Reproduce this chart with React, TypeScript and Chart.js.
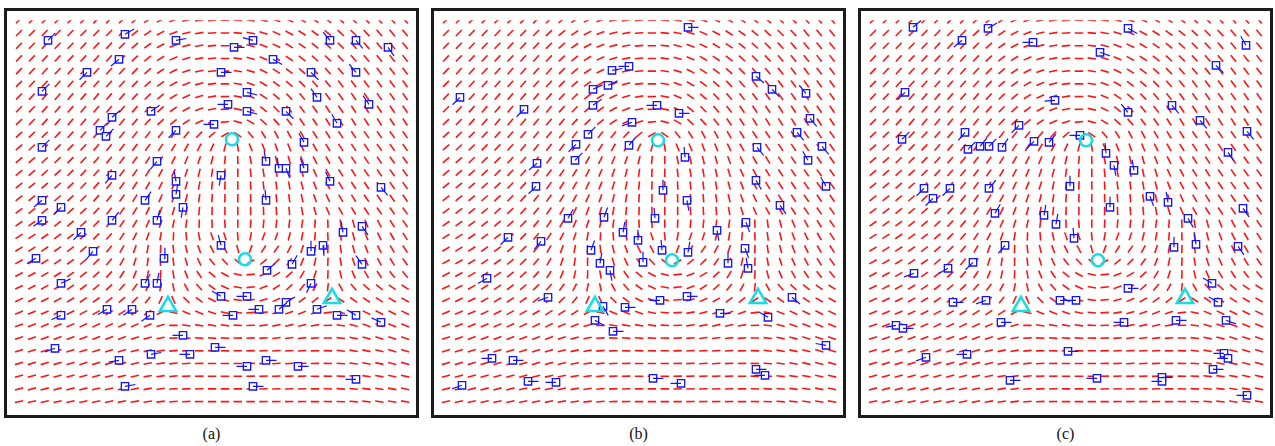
import React, { useEffect, useRef } from "react";
import { Chart, registerables } from "chart.js";

Chart.register(...registerables);

// ---------------- data ----------------
// Orientation field: one angle (degrees, counter-clockwise from horizontal) per block,
// 31 rows x 31 columns (same field in all three panels).
const fieldAngles: number[][] = [
  [45,45,45,45,45,45,46,46,45,40,34,26,19,13,8,4,0,-4,-9,-15,-20,-25,-30,-34,-38,-41,-44,-46,-48,-49,-50],
  [45,45,46,46,46,46,46,46,44,40,34,27,20,14,9,4,0,-5,-11,-17,-23,-28,-32,-36,-40,-43,-45,-47,-49,-50,-50],
  [46,46,46,46,46,47,47,47,45,41,36,29,22,15,10,5,0,-6,-13,-20,-26,-31,-35,-39,-42,-45,-47,-49,-50,-51,-51],
  [46,46,47,47,47,47,48,48,46,43,38,31,24,17,11,5,0,-7,-15,-23,-29,-34,-38,-42,-45,-47,-49,-50,-51,-52,-52],
  [46,47,47,47,48,48,48,48,47,45,40,34,27,19,12,6,0,-8,-17,-26,-33,-38,-42,-45,-48,-50,-51,-52,-53,-53,-53],
  [46,47,47,48,48,48,49,49,48,46,42,36,29,22,14,7,0,-9,-20,-30,-37,-42,-46,-49,-51,-52,-53,-54,-54,-54,-54],
  [46,47,48,48,49,49,49,49,49,47,44,39,32,25,17,9,1,-11,-23,-34,-41,-46,-50,-52,-54,-55,-55,-55,-55,-55,-55],
  [45,47,48,49,49,50,50,50,50,48,46,42,36,28,20,11,1,-12,-26,-38,-45,-50,-53,-55,-56,-56,-57,-57,-57,-56,-56],
  [44,46,48,49,50,50,50,50,50,49,47,44,40,33,25,18,6,-15,-30,-42,-48,-52,-55,-57,-58,-58,-58,-58,-58,-57,-57],
  [43,44,45,46,47,48,49,50,51,52,52,52,52,50,46,40,30,-35,-50,-58,-62,-62,-60,-58,-57,-56,-56,-55,-55,-55,-55],
  [42,43,44,45,46,48,50,51,52,53,54,56,58,60,62,65,75,-80,-68,-68,-70,-68,-64,-60,-58,-57,-56,-56,-55,-55,-55],
  [41,42,43,44,45,47,49,51,53,55,57,60,63,67,71,76,84,-88,-78,-76,-76,-74,-69,-63,-60,-58,-57,-56,-56,-55,-55],
  [40,41,42,43,45,47,49,51,53,56,59,62,66,71,76,81,87,90,-84,-81,-80,-78,-73,-66,-61,-58,-57,-56,-56,-55,-55],
  [39,40,41,42,44,46,48,51,54,57,60,64,68,73,79,84,88,90,-87,-84,-83,-80,-75,-68,-62,-59,-57,-56,-55,-55,-55],
  [38,39,40,41,43,45,48,51,54,58,62,66,71,76,81,86,89,90,-89,-86,-85,-82,-77,-70,-64,-60,-58,-56,-55,-55,-55],
  [37,38,39,40,42,44,47,51,55,59,64,69,74,79,84,88,90,90,90,-88,-87,-85,-80,-73,-66,-61,-58,-56,-55,-55,-55],
  [35,36,37,39,41,43,46,50,55,60,66,72,78,83,88,-88,-86,90,87,85,84,83,82,86,-88,-82,-75,-68,-62,-58,-55],
  [33,33,34,36,38,42,45,50,56,63,71,80,88,-85,-78,-72,-72,-85,80,70,72,76,80,85,-88,-82,-76,-70,-64,-60,-57],
  [31,32,33,35,37,41,45,51,60,70,80,88,-84,-77,-70,-63,-62,-75,70,57,55,62,72,80,88,-82,-75,-69,-64,-60,-57],
  [29,30,32,34,36,40,44,50,60,72,82,89,-83,-74,-64,-52,-46,-40,30,40,45,55,68,78,88,-80,-72,-66,-62,-58,-55],
  [28,29,31,33,35,38,42,48,57,68,78,88,-80,-68,-55,-40,-28,-15,5,22,30,42,58,72,88,-76,-66,-60,-56,-53,-51],
  [25,27,29,31,34,37,40,43,48,54,62,78,-78,-62,-48,-36,-24,-10,6,21,33,42,51,62,84,-62,-48,-42,-38,-35,-32],
  [25,26,27,29,31,33,35,38,41,45,51,65,-65,-45,-36,-27,-18,-7,5,15,24,30,36,39,34,-34,-35,-33,-32,-30,-29],
  [22,23,24,25,26,28,29,31,32,33,33,27,-13,-22,-22,-18,-11,-5,3,10,16,20,21,19,7,-13,-21,-25,-26,-26,-25],
  [20,21,22,23,24,25,25,25,25,24,22,15,0,-8,-10,-10,-7,-3,2,7,11,13,12,10,2,-8,-15,-19,-21,-22,-22],
  [18,19,20,20,21,21,21,21,20,18,15,10,3,-2,-4,-5,-3,-1,2,5,7,7,6,4,0,-6,-11,-15,-17,-18,-19],
  [17,17,18,18,18,18,18,18,17,15,12,9,5,1,-1,-2,-1,0,2,3,4,4,3,1,-2,-6,-9,-12,-14,-16,-17],
  [16,16,16,16,17,17,16,16,15,13,11,8,6,3,1,0,0,0,1,2,3,3,2,1,-1,-4,-7,-10,-12,-13,-15],
  [15,15,15,15,15,15,15,14,13,12,10,8,6,3,1,0,0,0,1,2,2,2,2,0,-1,-3,-6,-8,-10,-12,-13],
  [14,14,14,14,14,14,13,13,12,11,10,8,5,3,1,0,0,0,1,1,2,2,1,0,-1,-3,-5,-7,-9,-10,-12],
  [13,13,13,13,13,13,12,12,11,10,9,7,5,3,1,0,0,0,0,1,1,1,1,0,-1,-2,-4,-6,-8,-9,-10],
];

// block spacing of the field in image pixels (x, y)
const BLOCK_X = 12.87;
const BLOCK_Y = 12.71;

const panelLabels = ["(a)", "(b)", "(c)"];

// singular points [x, y] in image pixels
const coresA = [[213, 119], [226, 239]];
const deltasA = [[149, 286], [313, 278]];
const coresB = [[212, 120], [226, 240]];
const deltasB = [[149, 286], [312, 278]];
const coresC = [[213, 120], [225, 240]];
const deltasC = [[148, 286], [312, 278]];

// minutiae [x, y, direction in degrees]
const minutiaeA = [
  [29,20,45],[106,14,30],[157,20,10],[100,39,220],[68,52,225],[23,71,45],[132,91,35],[93,97,40],
  [81,110,45],[87,116,45],[157,110,225],[195,104,180],[23,127,45],[234,20,165],[215,27,0],[254,39,-30],
  [202,52,0],[292,52,-45],[311,20,130],[337,20,-50],[369,27,-55],[337,52,130],[228,72,-15],[209,84,180],
  [298,77,125],[350,84,125],[228,91,-15],[267,91,-45],[318,103,120],[285,122,120],[247,141,100],[260,148,100],
  [267,148,-70],[285,148,110],[311,161,115],[362,167,-50],[202,155,-100],[247,180,95],[343,206,-55],[324,212,100],
  [202,225,105],[304,225,-85],[292,231,90],[343,244,125],[273,244,60],[248,250,40],[292,263,245],[202,276,150],
  [228,276,180],[240,289,180],[260,289,40],[267,282,30],[298,289,20],[318,295,0],[337,295,150],[214,295,180],
  [362,302,155],[196,327,0],[247,340,0],[228,346,180],[279,346,0],[337,359,180],[234,366,0],[42,263,25],
  [126,263,60],[138,263,80],[42,295,205],[88,289,210],[113,289,215],[131,295,215],[164,315,180],[36,328,200],
  [132,334,10],[171,334,180],[100,340,190],[106,366,10],[138,141,230],[93,155,230],[157,161,100],[157,174,80],
  [23,180,220],[42,187,225],[126,180,55],[164,187,-100],[23,200,215],[93,200,50],[138,200,75],[62,212,225],
  [74,231,230],[17,238,210],[145,238,85],
];

const minutiaeB = [
  [242,7,0],[14,77,225],[78,89,225],[166,50,10],[183,46,180],[147,69,25],[162,65,25],[147,85,35],
  [186,102,200],[142,114,45],[130,124,225],[183,125,50],[211,85,180],[233,93,0],[310,56,-40],[326,69,-45],
  [360,73,130],[364,98,-50],[129,140,45],[91,143,220],[239,137,95],[311,127,-50],[351,112,-50],[362,140,120],
  [376,126,-50],[380,166,120],[90,166,225],[122,198,60],[158,197,70],[177,212,80],[192,220,90],[209,198,95],
  [217,170,90],[241,180,-80],[271,210,-80],[300,202,-70],[310,160,-60],[334,185,-55],[62,217,225],[95,221,230],
  [145,230,70],[164,250,-80],[154,243,80],[197,242,90],[216,230,95],[242,232,80],[282,243,90],[299,228,-70],
  [302,248,100],[41,258,210],[102,277,200],[157,286,-60],[179,287,0],[214,280,180],[241,276,0],[274,293,0],
  [322,297,150],[346,277,-40],[149,300,-30],[167,311,0],[46,338,180],[67,340,0],[82,361,0],[110,362,180],
  [207,358,0],[235,363,180],[310,349,0],[319,355,180],[380,325,170],[16,365,200],
];

const minutiaeC = [
  [40,7,40],[115,8,30],[89,20,220],[160,22,180],[32,72,225],[182,80,185],[146,105,225],[92,112,230],
  [29,119,45],[161,121,225],[176,122,50],[95,129,45],[107,126,50],[116,126,45],[129,127,55],[227,32,-20],
  [255,8,-30],[343,45,-45],[373,25,120],[207,115,180],[255,92,130],[299,85,-50],[327,100,-50],[355,132,-55],
  [374,111,-50],[233,133,95],[241,145,-80],[261,150,100],[277,176,-70],[295,182,100],[315,198,-60],[323,224,100],
  [365,226,-55],[370,188,-55],[197,166,90],[237,187,90],[171,195,80],[201,218,95],[51,168,225],[77,168,225],
  [60,178,225],[122,193,60],[116,168,50],[183,204,80],[132,225,230],[100,242,225],[75,248,210],[41,253,200],
  [255,268,0],[301,227,90],[339,263,150],[345,282,150],[353,300,-20],[303,300,0],[251,302,180],[203,280,180],
  [187,280,0],[113,280,200],[80,282,0],[23,305,190],[30,308,0],[128,302,0],[53,337,200],[94,334,180],
  [195,331,0],[137,360,0],[224,358,180],[289,357,0],[289,361,180],[351,333,180],[355,338,180],[340,349,0],
  [374,375,180],
];

const panelData = [
  { cores: coresA, deltas: deltasA, minutiae: minutiaeA },
  { cores: coresB, deltas: deltasB, minutiae: minutiaeB },
  { cores: coresC, deltas: deltasC, minutiae: minutiaeC },
];

// ---------------- styles ----------------
const RED = "#ff1414";
const BLUE = "#1414ff";
const CYAN = "#14dde3";
const FRAME_LEFT = [4, 431, 858];
const FRAME_TOP = 8;
const FRAME_W = 415;
const FRAME_H = 410;
const BORDER = 3;
const CANVAS_W = FRAME_W - 2 * BORDER;
const CANVAS_H = FRAME_H - 2 * BORDER;
const X_MIN = -12;
const TOP_PAD = 9.3;
const TAIL = 10.5;

function FingerPanel({ idx }: { idx: number }) {
  const ref = useRef<HTMLCanvasElement | null>(null);
  useEffect(() => {
    if (!ref.current) return;
    const { cores, deltas, minutiae } = panelData[idx];
    const fieldPts: { x: number; y: number }[] = [];
    const fieldRot: number[] = [];
    fieldAngles.forEach((row, j) =>
      row.forEach((a, i) => {
        fieldPts.push({ x: i * BLOCK_X, y: j * BLOCK_Y });
        fieldRot.push(-a);
      })
    );
    const squares = minutiae.map((m) => ({ x: m[0], y: m[1] }));
    const tails: { x: number | null; y: number | null }[] = [];
    minutiae.forEach((m) => {
      const r = (m[2] * Math.PI) / 180;
      tails.push({ x: m[0], y: m[1] });
      tails.push({ x: m[0] + TAIL * Math.cos(r), y: m[1] - TAIL * Math.sin(r) });
      tails.push({ x: null, y: null });
    });
    const chart = new Chart(ref.current, {
      type: "scatter",
      data: {
        datasets: [
          {
            data: fieldPts,
            pointStyle: "line",
            pointRadius: 4.2,
            pointRotation: fieldRot,
            pointBorderColor: RED,
            pointBorderWidth: 1.6,
            showLine: false,
            order: 5,
            clip: { left: false, top: 0, right: false, bottom: false },
          } as any,
          {
            data: squares,
            pointStyle: "rect",
            pointRadius: 5.2,
            pointBorderColor: BLUE,
            pointBackgroundColor: "#ffffff",
            pointBorderWidth: 1.3,
            showLine: false,
            order: 4,
            clip: false,
          } as any,
          {
            data: tails,
            showLine: true,
            spanGaps: false,
            pointRadius: 0,
            borderColor: BLUE,
            borderWidth: 1.2,
            order: 3,
            clip: false,
          } as any,
          {
            data: cores.map((c) => ({ x: c[0], y: c[1] })),
            pointStyle: "circle",
            pointRadius: 6,
            pointBorderColor: CYAN,
            pointBackgroundColor: "rgba(0,0,0,0)",
            pointBorderWidth: 2.5,
            showLine: false,
            order: 2,
            clip: false,
          } as any,
          {
            data: deltas.map((d) => ({ x: d[0], y: d[1] })),
            pointStyle: "triangle",
            pointRadius: 9.5,
            pointBorderColor: CYAN,
            pointBackgroundColor: "rgba(0,0,0,0)",
            pointBorderWidth: 2.5,
            showLine: false,
            order: 1,
            clip: false,
          } as any,
        ],
      },
      options: {
        responsive: false,
        animation: false,
        devicePixelRatio: 1,
        events: [],
        layout: { autoPadding: false, padding: { top: TOP_PAD, left: 0, right: 0, bottom: 0 } },
        plugins: { legend: { display: false }, tooltip: { enabled: false } },
        scales: {
          x: { type: "linear", display: false, min: X_MIN, max: X_MIN + CANVAS_W },
          y: { type: "linear", display: false, reverse: true, min: 0, max: CANVAS_H - TOP_PAD },
        },
      } as any,
    });
    return () => chart.destroy();
  }, [idx]);

  return (
    <>
      <div
        style={{
          position: "absolute",
          left: FRAME_LEFT[idx],
          top: FRAME_TOP,
          width: FRAME_W,
          height: FRAME_H,
          boxSizing: "border-box",
          border: `${BORDER}px solid #1c1c1c`,
          background: "#fff",
        }}
      >
        <canvas ref={ref} width={CANVAS_W} height={CANVAS_H} style={{ display: "block", width: CANVAS_W, height: CANVAS_H }} />
      </div>
      <div
        style={{
          position: "absolute",
          left: FRAME_LEFT[idx],
          width: FRAME_W,
          top: 425,
          textAlign: "center",
          fontFamily: '"Liberation Serif", "Times New Roman", serif',
          fontSize: 16,
          lineHeight: "18px",
          color: "#111",
        }}
      >
        {panelLabels[idx]}
      </div>
    </>
  );
}

export default function App() {
  return (
    <div style={{ position: "fixed", left: 0, top: 0, width: 1275, height: 446, background: "#fff", overflow: "hidden" }}>
      {[0, 1, 2].map((i) => (
        <FingerPanel key={i} idx={i} />
      ))}
    </div>
  );
}
